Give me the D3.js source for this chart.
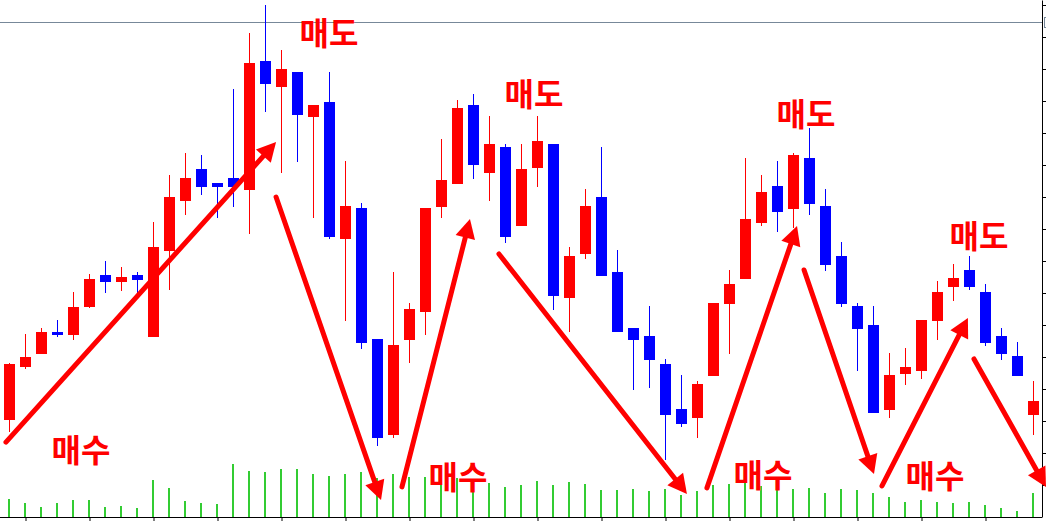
<!DOCTYPE html>
<html>
<head>
<meta charset="utf-8">
<script src="https://cdn.jsdelivr.net/npm/d3@7"></script>
<style>
  body { margin: 0; background: #fff; }
  svg { display: block; }
</style>
</head>
<body>
<div id="chart"></div>
<script>
// canvas
const canvWidth = 1046, canvHeight = 521;
const svg = d3.select("#chart").append("svg")
    .attr("width", canvWidth)
    .attr("height", canvHeight);

// candle data (price units), index = candle number
const opens  = [10203,10369,10409,10478,10469,10556,10656,10634,10656,10462,
                10731,10887,10988,10944,10959,10922,11325,11244,11291,11150,
                11197,10769,10866,10456,10156,10453,10541,10869,10941,11188,
                10975,11056,10809,10991,11066,10584,10722,10900,10666,10491,
                10466,10378,10237,10209,10341,10566,10644,10819,10934,10863,
                11022,10872,10716,10559,10500,10234,10347,10356,10513,10619,
                10672,10603,10466,10403,10219];
const highs  = [10381,10472,10491,10516,10603,10659,10700,10681,10666,10822,
                10969,11038,11031,10944,11238,11413,11500,11359,11291,11188,
                11291,11013,10881,10456,10666,10569,10866,11081,11203,11222,
                11153,11066,11066,11153,11066,10744,10925,11056,10734,10491,
                10559,10394,10344,10325,10569,10672,11022,10969,11013,11038,
                11116,10925,10759,10569,10559,10413,10428,10516,10638,10691,
                10716,10628,10491,10447,10325];
const lows   = [10166,10362,10409,10462,10453,10553,10600,10606,10597,10462,
                10609,10844,10906,10834,10869,10784,11166,10975,11009,10834,
                10769,10513,10425,10122,10147,10381,10469,10834,10941,10956,
                10887,10756,10809,10931,10547,10478,10706,10653,10478,10297,
                10303,10078,10181,10147,10341,10409,10644,10809,10791,10803,
                10844,10669,10556,10356,10225,10209,10313,10331,10453,10575,
                10609,10434,10391,10341,10156];
const closes = [10378,10400,10478,10469,10556,10644,10634,10650,10641,10744,
                10900,10959,10931,10931,10931,11319,11253,11300,11156,11188,
                10775,10872,10444,10147,10438,10550,10866,10953,11178,11000,
                11066,10775,10988,11075,10591,10716,10872,10653,10478,10453,
                10391,10219,10191,10316,10569,10628,10831,10916,10853,11031,
                10878,10688,10566,10488,10225,10344,10369,10516,10603,10647,
                10619,10444,10409,10341,10263];
const volumes = [18,14,10,14,17,17,10,11,9,37,
                 29,16,14,13,53,46,45,48,48,43,
                 41,43,45,39,43,40,40,37,39,35,
                 34,30,32,36,32,35,33,27,27,28,
                 26,28,22,26,32,33,37,31,27,28,
                 29,24,28,27,24,20,15,17,15,14,
                 15,12,9,6,24];
const refPrice = 11447;
const priceTicks = d3.range(10000, 11501, 100);
const timeTicks = d3.range(1, 65, 4);

// annotations: [index, price]
const arrowStarts = [[-0.22,10134],[16.66,10900],[24.53,9994],[30.59,10722],
                     [43.59,9991],[49.66,10672],[54.53,9997],[60.28,10394]];
const arrowTips   = [[16.66,11072],[23.22,9953],[28.78,10831],[42.34,9972],
                     [49.22,10809],[54.03,10034],[59.9,10522],[64.78,9994]];
const labelText = ["매도","매도","매도","매도","매수","매수","매수","매수"];
const labelPos  = [[19.97,11419],[32.78,11228],[49.78,11166],[60.59,10784],
                   [4.47,10116],[28.03,10031],[47.09,10038],[57.84,10034]];

const candles = opens.map((o, i) => ({i: i, o: o, h: highs[i], l: lows[i], c: closes[i], v: volumes[i]}));

// scales
const x = d3.scaleLinear().domain([0, 64]).range([9.5, 1033.5]);
const y = d3.scaleLinear().domain([9900, 11515.625]).range([517, 0]);
const yVol = d3.scaleLinear().domain([0, 60]).range([517, 457]);
const color = d => d.c >= d.o ? "#ff0000" : "#0000ff";

const axisRightX = 1042;

// reference price line
svg.append("line")
    .attr("x1", 0).attr("x2", axisRightX)
    .attr("y1", Math.round(y(refPrice)) + 0.5)
    .attr("y2", Math.round(y(refPrice)) + 0.5)
    .attr("stroke", "#778899")
    .attr("stroke-width", 1);

// volume bars
svg.append("g").selectAll("rect")
    .data(candles)
    .join("rect")
      .attr("x", d => Math.round(x(d.i)) - 2)
      .attr("y", d => yVol(d.v))
      .attr("width", 2)
      .attr("height", d => yVol(0) - yVol(d.v))
      .attr("fill", "#33cc33")
      .attr("shape-rendering", "crispEdges");

// candles
const cg = svg.append("g").attr("shape-rendering", "crispEdges");
cg.selectAll("line")
    .data(candles)
    .join("line")
      .attr("x1", d => Math.floor(x(d.i)) + 0.5)
      .attr("x2", d => Math.floor(x(d.i)) + 0.5)
      .attr("y1", d => y(d.h))
      .attr("y2", d => y(d.l))
      .attr("stroke", color)
      .attr("stroke-width", 1);
cg.selectAll("rect")
    .data(candles)
    .join("rect")
      .attr("x", d => Math.floor(x(d.i)) - 5)
      .attr("y", d => y(Math.max(d.o, d.c)))
      .attr("width", 11)
      .attr("height", d => Math.max(2, y(Math.min(d.o, d.c)) - y(Math.max(d.o, d.c))))
      .attr("fill", color);

// axes
const xAxis = d3.axisBottom(x).tickValues(timeTicks).tickSize(4).tickSizeOuter(0).tickFormat("");
const gx = svg.append("g")
    .attr("transform", "translate(0,517)")
    .call(xAxis);
gx.select(".domain").remove();
svg.append("line")
    .attr("x1", 0).attr("x2", axisRightX)
    .attr("y1", 517.5).attr("y2", 517.5)
    .attr("stroke", "#000");

const yAxis = d3.axisRight(y).tickValues(priceTicks).tickSize(4).tickSizeOuter(0).tickFormat("");
svg.append("g")
    .attr("transform", `translate(${axisRightX},0)`)
    .call(yAxis);

// price marker box at the axis
svg.append("rect")
    .attr("x", axisRightX + 2.5)
    .attr("y", Math.round(y(refPrice)) - 4.5)
    .attr("width", 20).attr("height", 10)
    .attr("fill", "#fff")
    .attr("stroke", "#778899");

// arrows
const ag = svg.append("g");
arrowStarts.forEach((s, k) => {
    const x0 = x(s[0]), y0 = y(s[1]);
    const x1 = x(arrowTips[k][0]), y1 = y(arrowTips[k][1]);
    const len = Math.hypot(x1 - x0, y1 - y0);
    const ux = (x1 - x0) / len, uy = (y1 - y0) / len;
    const nx = -uy, ny = ux;
    const headLen = 19, headW = 10;
    const bx = x1 - ux * headLen, by = y1 - uy * headLen;
    ag.append("line")
        .attr("x1", x0).attr("y1", y0)
        .attr("x2", x1 - ux * 14).attr("y2", y1 - uy * 14)
        .attr("stroke", "#ff0000")
        .attr("stroke-width", 5)
        .attr("stroke-linecap", "round");
    ag.append("path")
        .attr("d", `M${x1},${y1}L${bx + nx * headW},${by + ny * headW}L${bx - nx * headW},${by - ny * headW}Z`)
        .attr("fill", "#ff0000");
});

// labels
svg.append("g").selectAll("text")
    .data(labelText)
    .join("text")
      .attr("x", (d, k) => x(labelPos[k][0]))
      .attr("y", (d, k) => y(labelPos[k][1]))
      .attr("text-anchor", "middle")
      .attr("dominant-baseline", "central")
      .style("font-family", "'Noto Sans CJK KR', sans-serif")
      .style("font-weight", "bold")
      .style("font-size", "32px")
      .attr("fill", "#ff0000")
      .text(d => d);
</script>
</body>
</html>
